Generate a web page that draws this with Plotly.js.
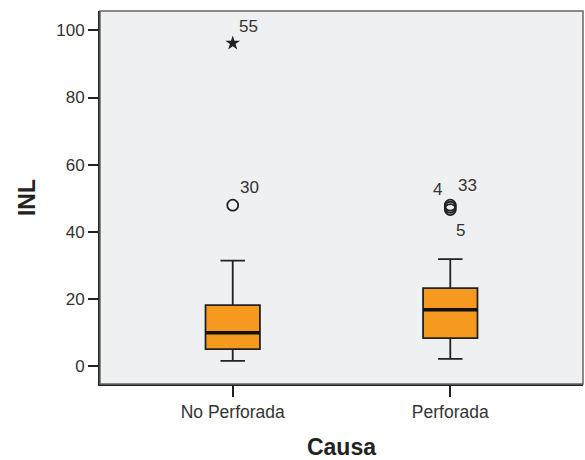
<!DOCTYPE html>
<html><head><meta charset="utf-8">
<script src="https://cdn.plot.ly/plotly-3.0.1.min.js"></script>
<style>html,body{margin:0;padding:0;background:#fff}</style>
</head><body><div id="chart" style="width:585px;height:460px"></div>
<script>
const categories = ["No Perforada", "Perforada"];
const lowerWhisker = [1.5, 2.1];
const q1 = [5.0, 8.3];
const median = [9.9, 16.7];
const q3 = [18.1, 23.2];
const upperWhisker = [31.4, 31.8];
// outliers (circles) and extremes (stars)
const outlierCat = [0, 1, 1, 1];
const outlierVal = [47.9, 47.9, 47.3, 46.6];
const outlierLabel = ["30", "4", "33", "5"];
const extremeCat = [0];
const extremeVal = [96.2];
const extremeLabel = ["55"];
const yTicks = [0, 20, 40, 60, 80, 100];

const idx = categories.map((c, i) => i);
const traces = idx.map(i => ({
  type: 'box', x: [i], q1: [q1[i]], median: [median[i]], q3: [q3[i]],
  lowerfence: [lowerWhisker[i]], upperfence: [upperWhisker[i]],
  width: 0.25, whiskerwidth: 0.45, boxpoints: false,
  fillcolor: '#F5991F', line: {color: '#222', width: 1.8},
  hoverinfo: 'skip', showlegend: false
}));
// thick median lines
idx.forEach(i => traces.push({
  type: 'scatter', mode: 'lines', x: [i - 0.125, i + 0.125], y: [median[i], median[i]],
  line: {color: '#111', width: 3.5}, showlegend: false, hoverinfo: 'skip'
}));
traces.push({
  type: 'scatter', mode: 'markers', x: outlierCat, y: outlierVal,
  marker: {symbol: 'circle-open', size: 11, color: '#222', line: {width: 1.8}},
  showlegend: false, hoverinfo: 'skip'
});
traces.push({
  type: 'scatter', mode: 'markers', x: extremeCat, y: extremeVal,
  marker: {symbol: 'star', size: 11, color: '#222'},
  showlegend: false, hoverinfo: 'skip'
});

const labelShift = {"30": [17, 18], "4": [-13, 16], "33": [17, 22], "5": [10, -21], "55": [16, 17]};
const annotations = [];
outlierLabel.forEach((t, k) => annotations.push({
  x: outlierCat[k], y: outlierVal[k], text: t, showarrow: false,
  xshift: labelShift[t][0], yshift: labelShift[t][1],
  font: {family: 'Liberation Sans, Arial', size: 17, color: '#333'}
}));
extremeLabel.forEach((t, k) => annotations.push({
  x: extremeCat[k], y: extremeVal[k], text: t, showarrow: false,
  xshift: labelShift[t][0], yshift: labelShift[t][1],
  font: {family: 'Liberation Sans, Arial', size: 17, color: '#333'}
}));

const layout = {
  width: 585, height: 460,
  margin: {l: 100, r: 2, t: 11, b: 76},
  paper_bgcolor: '#ffffff', plot_bgcolor: '#EFF0F1',
  font: {family: 'Liberation Sans, Arial', size: 17, color: '#333'},
  xaxis: {
    range: [-0.61, 1.61], tickvals: idx, ticktext: categories,
    showgrid: false, zeroline: false, showline: true, linecolor: '#222', linewidth: 2,
    ticks: 'outside', ticklen: 11, tickwidth: 2, tickcolor: '#222',
    tickfont: {size: 17.5, color: '#333'},
    title: {text: 'Causa', font: {size: 23, color: '#222', family: 'Liberation Sans, Arial', weight: 'bold'}, standoff: 21}
  },
  yaxis: {
    range: [-5.4, 105.8], tickvals: yTicks,
    showgrid: false, zeroline: false, showline: true, linecolor: '#222', linewidth: 2,
    ticks: 'outside', ticklen: 10, tickwidth: 2, tickcolor: '#222',
    tickfont: {size: 17, color: '#333'},
    title: {text: 'INL', font: {size: 23, color: '#222', family: 'Liberation Sans, Arial', weight: 'bold'}, standoff: 14}
  },
  shapes: [{type: 'rect', xref: 'paper', yref: 'paper', x0: 0, x1: 1, y0: 0, y1: 1,
    line: {color: '#666', width: 1.5}}],
  annotations: annotations
};
Plotly.newPlot('chart', traces, layout, {displayModeBar: false, staticPlot: true});
</script></body></html>
